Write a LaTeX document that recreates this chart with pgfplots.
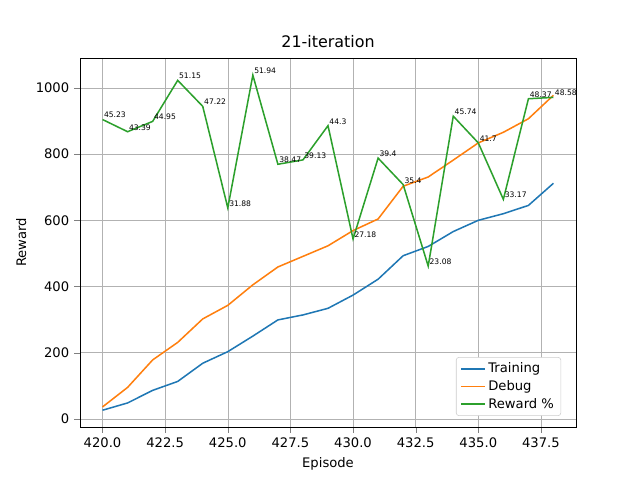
\documentclass[border=0pt]{standalone}
\usepackage{pgfplots}
\pgfplotsset{compat=1.18}
\usepackage{fontspec}
\setmainfont{DejaVu Sans}
\definecolor{c1}{HTML}{1F77B4}
\definecolor{c2}{HTML}{FF7F0E}
\definecolor{c3}{HTML}{2CA02C}
\begin{document}
\begin{tikzpicture}
\path[use as bounding box] (0,0) rectangle (6.4in,4.8in);
\begin{axis}[at={(0.8in,0.53in)}, anchor=south west,
 width=4.96in, height=3.69in, scale only axis,
 xmin=419.1, xmax=438.9, ymin=-24.7, ymax=1090.6,
 xtick={420,422.5,...,437.5}, ytick={0,200,...,1000},
 xticklabel style={/pgf/number format/.cd,fixed,fixed zerofill,precision=1},
 yticklabel style={/pgf/number format/1000 sep={}},
 /pgf/number format/assume math mode=true,
 grid=major, grid style={gray!60},
 tick label style={font=\fontsize{9.5}{11}\selectfont},
 label style={font=\fontsize{9.5}{11}\selectfont},
 title={21-iteration}, title style={font=\fontsize{11.5}{14}\selectfont, yshift=-2pt},
 xlabel={Episode}, ylabel={Reward},
 legend pos=south east,
 legend style={font=\fontsize{9.5}{12}\selectfont, draw=gray!40, rounded corners=2pt, cells={anchor=west}},
 legend cell align=left,
 tick align=outside, tick pos=left,
]
\addlegendimage{c1, line width=1.1pt}\addlegendentry{Training}
\addlegendimage{c2, line width=1.1pt}\addlegendentry{Debug}
\addlegendimage{c3, line width=1.1pt}\addlegendentry{Reward \%}
\addplot[c1, line width=1.1pt, forget plot] coordinates {(420,26)(421,48)(422,86)(423,113)(424,168)(425,203)(426,250)(427,299)(428,314)(429,334)(430,374)(431,422)(432,493)(433,521)(434,566)(435,600)(436,620)(437,645)(438,712)};
\addplot[c2, line width=1.1pt, forget plot] coordinates {(420,36)(421,95)(422,178)(423,231)(424,302)(425,343)(426,405)(427,459)(428,491)(429,523)(430,569)(431,604)(432,703)(433,731)(434,782)(435,834)(436,866)(437,907)(438,978)};
\addplot[c3, line width=1.1pt, forget plot, nodes near coords, point meta=explicit symbolic,
 every node near coord/.style={font=\fontsize{5.5}{6}\selectfont, anchor=south west, inner sep=0.5pt, black}]
 coordinates {(420,904.6)[45.23](421,867.8)[43.39](422,899)[44.95](423,1023)[51.15](424,944.4)[47.22](425,637.6)[31.88](426,1038.8)[51.94](427,769.4)[38.47](428,782.6)[39.13](429,886)[44.3](430,543.6)[27.18](431,788)[39.4](432,708)[35.4](433,461.6)[23.08](434,914.8)[45.74](435,834)[41.7](436,663.4)[33.17](437,967.4)[48.37](438,971.6)[48.58]};
\end{axis}
\end{tikzpicture}
\end{document}
